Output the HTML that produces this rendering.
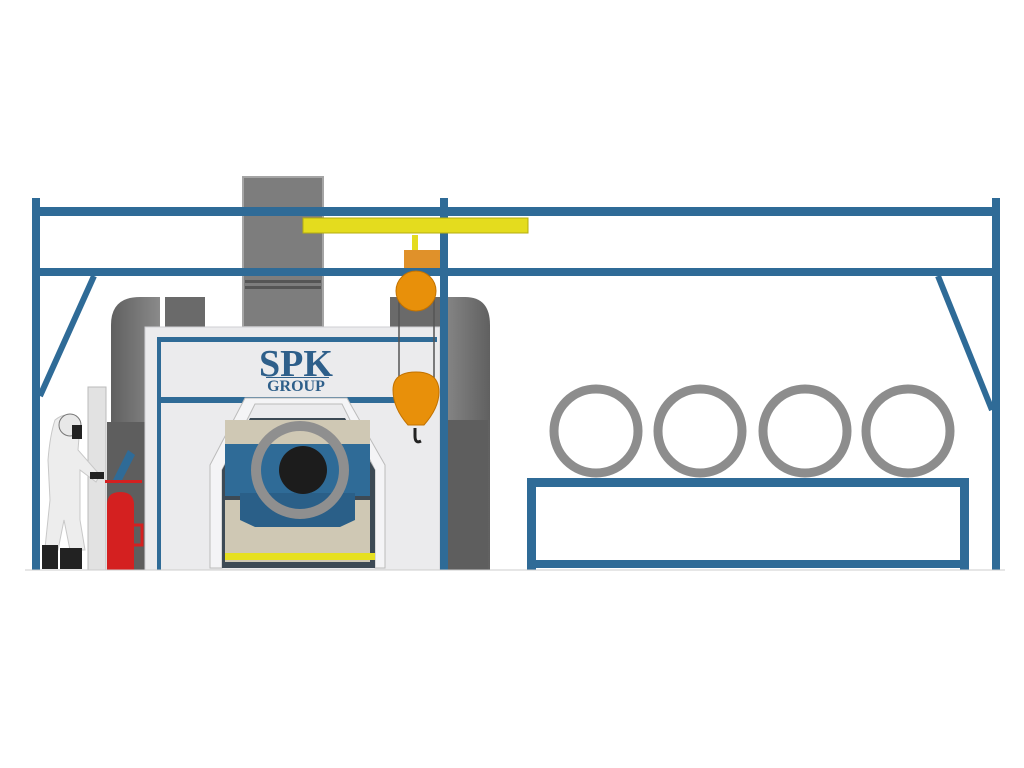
<!DOCTYPE html>
<html><head><meta charset="utf-8"><style>html,body{margin:0;padding:0;background:#fff}svg{display:block}</style></head>
<body>
<svg width="1024" height="768" viewBox="0 0 1024 768" xmlns="http://www.w3.org/2000/svg">
<defs>
<linearGradient id="gl" x1="0" x2="1"><stop offset="0" stop-color="#606060"/><stop offset="1" stop-color="#8a8a8a"/></linearGradient>
<linearGradient id="gr" x1="0" x2="1"><stop offset="0" stop-color="#8a8a8a"/><stop offset="1" stop-color="#606060"/></linearGradient>
</defs>
<rect width="1024" height="768" fill="#fff"/>
<!-- chimney -->
<rect x="243" y="177" width="80" height="150" fill="#7d7d7d" stroke="#a5a5a5" stroke-width="2"/>
<rect x="245" y="280" width="76" height="3" fill="#555"/>
<rect x="245" y="286" width="76" height="3" fill="#555"/>
<!-- side housings -->
<path d="M111 570 V325 Q111 297 140 297 H160 V570Z" fill="url(#gl)"/>
<path d="M440 570 V297 H465 Q490 297 490 325 V570Z" fill="url(#gr)"/>
<rect x="107" y="422" width="40" height="148" fill="#5e5e5e"/>
<rect x="448" y="420" width="40" height="150" fill="#5e5e5e"/>
<rect x="165" y="297" width="40" height="30" fill="#6a6a6a"/>
<rect x="390" y="297" width="50" height="30" fill="#6a6a6a"/>
<!-- booth -->
<rect x="145" y="327" width="295" height="243" fill="#ebebed" stroke="#cfcfd3"/>
<rect x="157" y="337" width="280" height="5" fill="#2f6b97"/>
<rect x="157" y="337" width="4" height="233" fill="#2f6b97"/>
<rect x="157" y="397" width="280" height="6" fill="#2f6b97"/>
<text x="296" y="376" text-anchor="middle" font-family="Liberation Serif,serif" font-weight="bold" font-size="38" fill="#2e5f8a">SPK</text>
<rect x="266" y="377" width="63" height="1" fill="#2e5f8a"/>
<text x="296" y="391" text-anchor="middle" font-family="Liberation Serif,serif" font-weight="bold" font-size="16" fill="#2e5f8a">GROUP</text>
<!-- opening -->
<path d="M210 568 V465 L245 398 H347 L385 465 V568 H375 V470 L342 404 H255 L222 470 V568Z" fill="#f4f4f6" stroke="#bbb"/>
<path d="M222 568 V470 L250 418 H345 L375 470 V568Z" fill="#3d4a55"/>
<rect x="225" y="420" width="145" height="26" fill="#cfc8b4"/>
<rect x="225" y="500" width="145" height="62" fill="#cfc8b4"/>
<rect x="225" y="444" width="145" height="52" fill="#2f6b97"/>
<path d="M240 493 H355 V520 L340 527 H255 L240 520Z" fill="#2a5f88"/>
<rect x="225" y="553" width="150" height="7" fill="#e6e021"/>
<circle cx="300" cy="470" r="44" fill="none" stroke="#8f8f8f" stroke-width="10"/>
<circle cx="303" cy="470" r="24" fill="#1c1c1c"/>
<!-- frame -->
<rect x="32" y="207" width="968" height="9" fill="#2f6b97"/>
<rect x="32" y="268" width="968" height="8" fill="#2f6b97"/>
<rect x="32" y="198" width="8" height="372" fill="#2f6b97"/>
<rect x="440" y="198" width="8" height="372" fill="#2f6b97"/>
<rect x="992" y="198" width="8" height="372" fill="#2f6b97"/>
<line x1="94" y1="276" x2="40" y2="396" stroke="#2f6b97" stroke-width="6"/>
<line x1="938" y1="276" x2="992" y2="410" stroke="#2f6b97" stroke-width="6"/>
<!-- crane -->
<rect x="303" y="218" width="225" height="15" fill="#e4dc1e" stroke="#b5ad10"/>
<rect x="412" y="235" width="6" height="15" fill="#e4dc1e"/>
<rect x="404" y="250" width="36" height="18" fill="#e0912a"/>
<line x1="399" y1="290" x2="399" y2="390" stroke="#555" stroke-width="1.5"/>
<line x1="434" y1="290" x2="434" y2="390" stroke="#555" stroke-width="1.5"/>
<circle cx="416" cy="291" r="20" fill="#e8900a" stroke="#c27200"/>
<path d="M393 390 Q393 372 416 372 Q439 372 439 392 Q439 408 424 425 H408 Q393 408 393 390Z" fill="#e8900a" stroke="#c27200"/>
<path d="M415 428 V436 Q415 444 421 441" fill="none" stroke="#222" stroke-width="3"/>
<!-- right table -->
<rect x="527" y="478" width="442" height="9" fill="#2f6b97"/>
<rect x="527" y="560" width="442" height="8" fill="#2f6b97"/>
<rect x="527" y="478" width="9" height="92" fill="#2f6b97"/>
<rect x="960" y="478" width="9" height="92" fill="#2f6b97"/>
<g fill="none" stroke="#8d8d8d" stroke-width="9">
<circle cx="596" cy="431" r="42"/><circle cx="700" cy="431" r="42"/><circle cx="805" cy="431" r="42"/><circle cx="908" cy="431" r="42"/>
</g>
<!-- panel, extinguisher, person -->
<rect x="88" y="387" width="18" height="183" fill="#e2e2e2" stroke="#bbb"/>
<path d="M113 480 L128 450 L135 455 L120 484Z" fill="#2f6b97"/>
<rect x="105" y="480" width="37" height="3" fill="#d42020"/>
<path d="M107 570 V505 Q107 492 120 492 Q134 492 134 505 V570Z" fill="#d42020"/>
<path d="M134 525 H142 V545 H134" fill="none" stroke="#d42020" stroke-width="3"/>
<path d="M55 420 Q70 408 80 425 L78 450 L100 475 L96 482 L80 470 L80 520 L85 550 L70 550 L64 520 L58 550 L45 548 L50 500 L48 460 Q50 435 55 420Z" fill="#ededed" stroke="#c8c8c8"/>
<circle cx="70" cy="425" r="11" fill="#e8e8e8" stroke="#777"/>
<rect x="72" y="425" width="10" height="14" fill="#222"/>
<rect x="42" y="545" width="16" height="24" fill="#222"/>
<rect x="60" y="548" width="22" height="21" fill="#222"/>
<rect x="90" y="472" width="14" height="7" fill="#222"/>
<line x1="25" y1="570" x2="1005" y2="570" stroke="#ccc" stroke-width="1"/>
</svg>
</body></html>
